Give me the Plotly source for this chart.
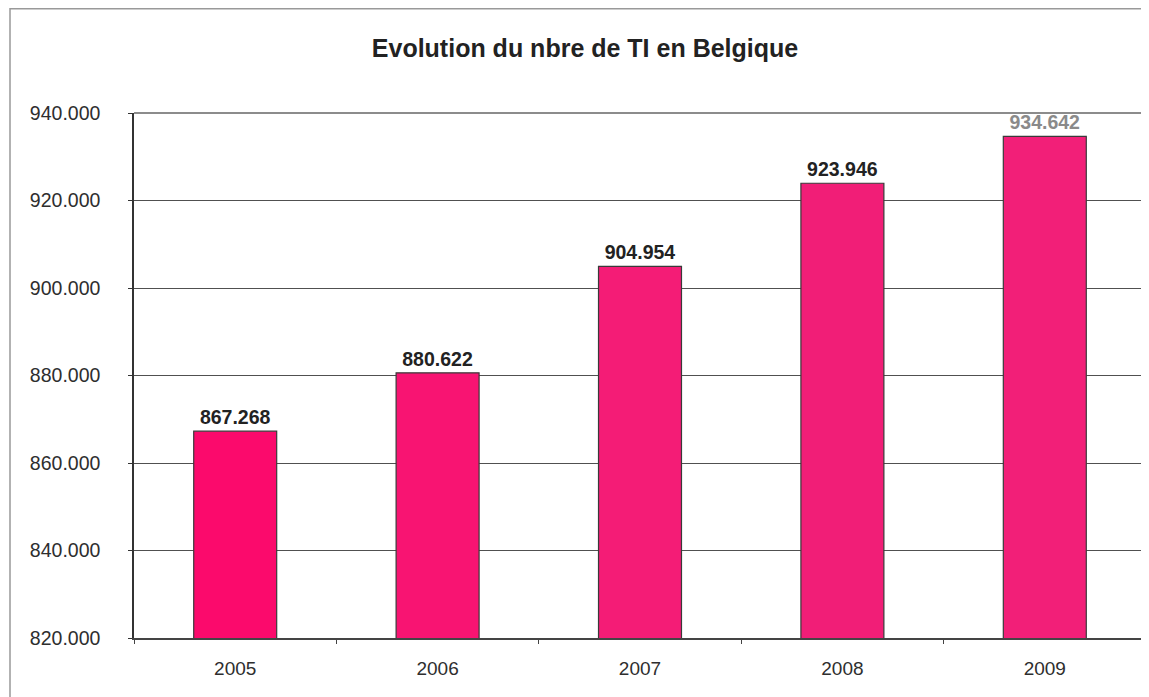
import plotly.graph_objects as go

years = ["2005", "2006", "2007", "2008", "2009"]
values = [867268, 880622, 904954, 923946, 934642]
label_colors = ["#222222", "#222222", "#222222", "#222222", "#8a8a8a"]
bar_colors = ["#FB0A6C", "#F81472", "#F41C76", "#F11E77", "#F21F78"]
y_ticks = [820000, 840000, 860000, 880000, 900000, 920000, 940000]

# The page body has an 8px margin, so the figure is sized/offset to compensate.
W, H = 1141, 689
L, T, B, R = 126, 105, 59, 3
PW, PH = W - L - R, H - T - B

FONT = "Liberation Sans, Arial, sans-serif"

fig = go.Figure()
fig.add_trace(go.Bar(
    x=years, y=values, width=0.41,
    marker=dict(color=bar_colors, line=dict(color="#3a3a3a", width=1.2)),
    text=values, texttemplate="%{y:,d}", textposition="outside",
    textfont=dict(family=FONT, size=19.5, color=label_colors, weight="bold"),
    cliponaxis=False,
))

fig.update_layout(
    width=W, height=H,
    margin=dict(l=L, r=R, t=T, b=B),
    paper_bgcolor="white", plot_bgcolor="white",
    separators=",.",
    showlegend=False,
    title=dict(text="<b>Evolution du nbre de TI en Belgique</b>", x=577 / W, xanchor="center",
               y=1 - 40 / H, yanchor="middle",
               font=dict(family=FONT, size=25, color="#222222")),
    font=dict(family=FONT, size=19, color="#333333"),
)
fig.update_yaxes(
    range=[820000, 940000], tickvals=y_ticks, tickformat=",d",
    showgrid=True, gridcolor="#505050", gridwidth=1,
    showline=True, linecolor="#333333", linewidth=1.5, mirror=False,
    ticks="outside", ticklen=4, tickcolor="#333333",
    ticklabelstandoff=24, zeroline=False,
    tickfont=dict(size=19.5, color="#2e2e2e"),
)
fig.update_xaxes(
    showline=True, linecolor="#444444", linewidth=1.5,
    ticks="outside", ticklen=4, tickcolor="#444444", tickson="boundaries",
    ticklabelstandoff=12, showgrid=False,
    tickfont=dict(size=19, color="#2e2e2e"),
)
# plot area top/right border
fig.add_shape(type="line", xref="paper", yref="paper", x0=0, x1=1, y0=1, y1=1,
              line=dict(color="#666666", width=1.5))
fig.add_shape(type="line", xref="paper", yref="paper", x0=1, x1=1, y0=0, y1=1,
              line=dict(color="#999999", width=1.5))
# outer chart border (only top and left fall inside the picture)
fig.add_shape(type="rect", xref="paper", yref="paper",
              x0=(2 - L) / PW, x1=(W + 20 - L) / PW,
              y0=-(B + 20) / PH, y1=(PH + T - 0.8) / PH,
              line=dict(color="#999999", width=1.5), fillcolor="rgba(0,0,0,0)", layer="below")

fig.write_html("out.html")
